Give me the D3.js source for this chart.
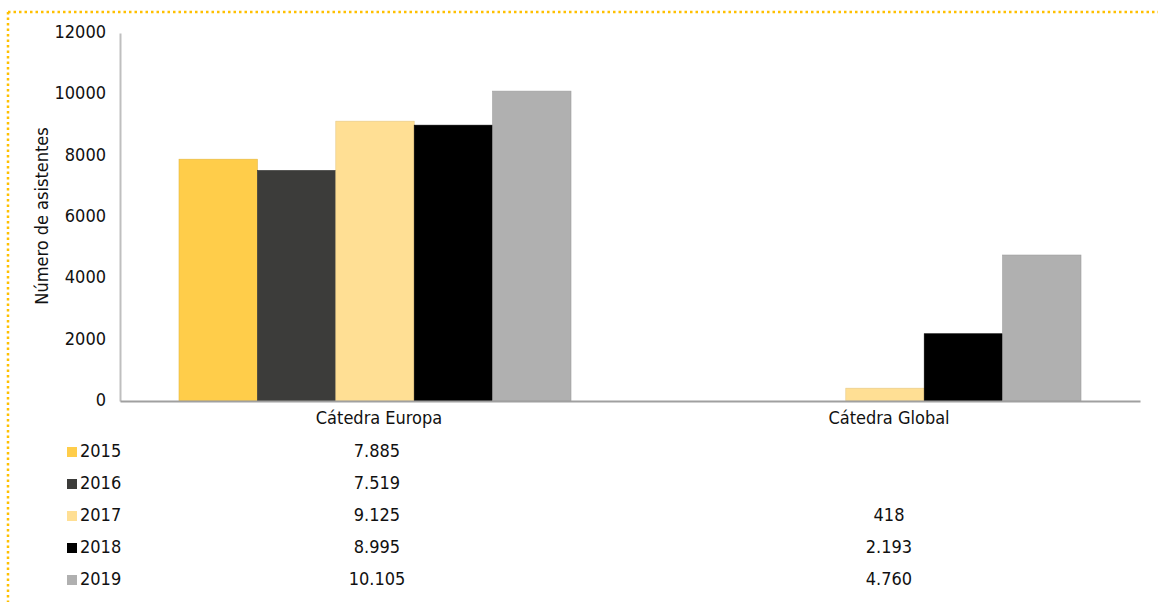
<!DOCTYPE html>
<html><head><meta charset="utf-8">
<script src="https://cdn.jsdelivr.net/npm/d3@7"></script>
<style>
html,body{margin:0;padding:0;background:#fff;}
svg text{font-family:"Liberation Sans Narrow","DejaVu Sans Condensed","Roboto",sans-serif;fill:#111;}
</style></head>
<body><svg id="c" width="1158" height="602"></svg>
<script>
const categories = ["Cátedra Europa", "Cátedra Global"];
const years = ["2015", "2016", "2017", "2018", "2019"];
const values2015 = [7885, null];
const values2016 = [7519, null];
const values2017 = [9125, 418];
const values2018 = [8995, 2193];
const values2019 = [10105, 4760];
const yTicks = [0, 2000, 4000, 6000, 8000, 10000, 12000];
const colors = ["#FFCD4A", "#3C3C3A", "#FFDF94", "#000000", "#B0B0B0"];

const series = [values2015, values2016, values2017, values2018, values2019];
const svg = d3.select("#c");

// dotted frame
svg.append("line").attr("x1",8).attr("x2",1158).attr("y1",12).attr("y2",12)
  .attr("stroke","#FFC000").attr("stroke-width",2.5).attr("stroke-dasharray","2.5,3");
svg.append("line").attr("x1",8).attr("x2",8).attr("y1",12).attr("y2",602)
  .attr("stroke","#FFC000").attr("stroke-width",2.5).attr("stroke-dasharray","2.5,3");

const x0 = d3.scaleBand().domain(categories).range([120, 1140]).paddingInner(0).paddingOuter(0);
const x1 = d3.scaleBand().domain(years).range([59, x0.bandwidth()-59]);
const y = d3.scaleLinear().domain([0, 12000]).range([401, 33]);

// y axis
const yAxis = d3.axisLeft(y).tickValues(yTicks).tickSize(0).tickPadding(10).tickFormat(d3.format("d"));
const gy = svg.append("g").attr("transform","translate(120,0)").call(yAxis);
gy.select(".domain").attr("stroke","#BFBFBF").attr("stroke-width",2);
gy.selectAll("text").attr("font-size",18).attr("dy","0.25em").attr("x",-14);

// bars
const g = svg.append("g");
categories.forEach((c, ci) => {
  years.forEach((yr, si) => {
    const v = series[si][ci];
    if (v == null) return;
    g.append("rect")
      .attr("x", x0(c) + x1(yr))
      .attr("width", x1.bandwidth())
      .attr("y", y(v))
      .attr("height", y(0) - y(v))
      .attr("fill", colors[si])
      .attr("stroke", d3.color(colors[si]).darker(0.3))
      .attr("stroke-width", 0.6);
  });
});

// x axis
const xAxis = d3.axisBottom(x0).tickSize(0).tickPadding(10);
const gx = svg.append("g").attr("transform","translate(0,401)").call(xAxis);
gx.select(".domain").attr("stroke","#A0A0A0").attr("stroke-width",2);
gx.selectAll("text").attr("font-size",18).attr("dy","0.71em").attr("dx",4);

// y title
svg.append("text").attr("transform","translate(48,216) rotate(-90)")
  .attr("text-anchor","middle").attr("font-size",18).text("Número de asistentes");

// data table
const fmt = d3.formatLocale({decimal:",", thousands:".", grouping:[3], currency:["","€"]}).format(",d");
const rowY = d3.scalePoint().domain(years).range([451, 579]);
years.forEach((yr, si) => {
  svg.append("rect").attr("x",67).attr("y",rowY(yr)-4).attr("width",10).attr("height",10).attr("fill",colors[si]);
  svg.append("text").attr("x",80).attr("y",rowY(yr)).attr("dy","0.35em").attr("font-size",18).text(yr);
  categories.forEach((c, ci) => {
    const v = series[si][ci];
    if (v == null) return;
    svg.append("text").attr("x", x0(c) + x0.bandwidth()/2 + (ci===0?2:4)).attr("y", rowY(yr)).attr("dy","0.35em")
      .attr("text-anchor","middle").attr("font-size",18).text(fmt(v));
  });
});
</script></body></html>
